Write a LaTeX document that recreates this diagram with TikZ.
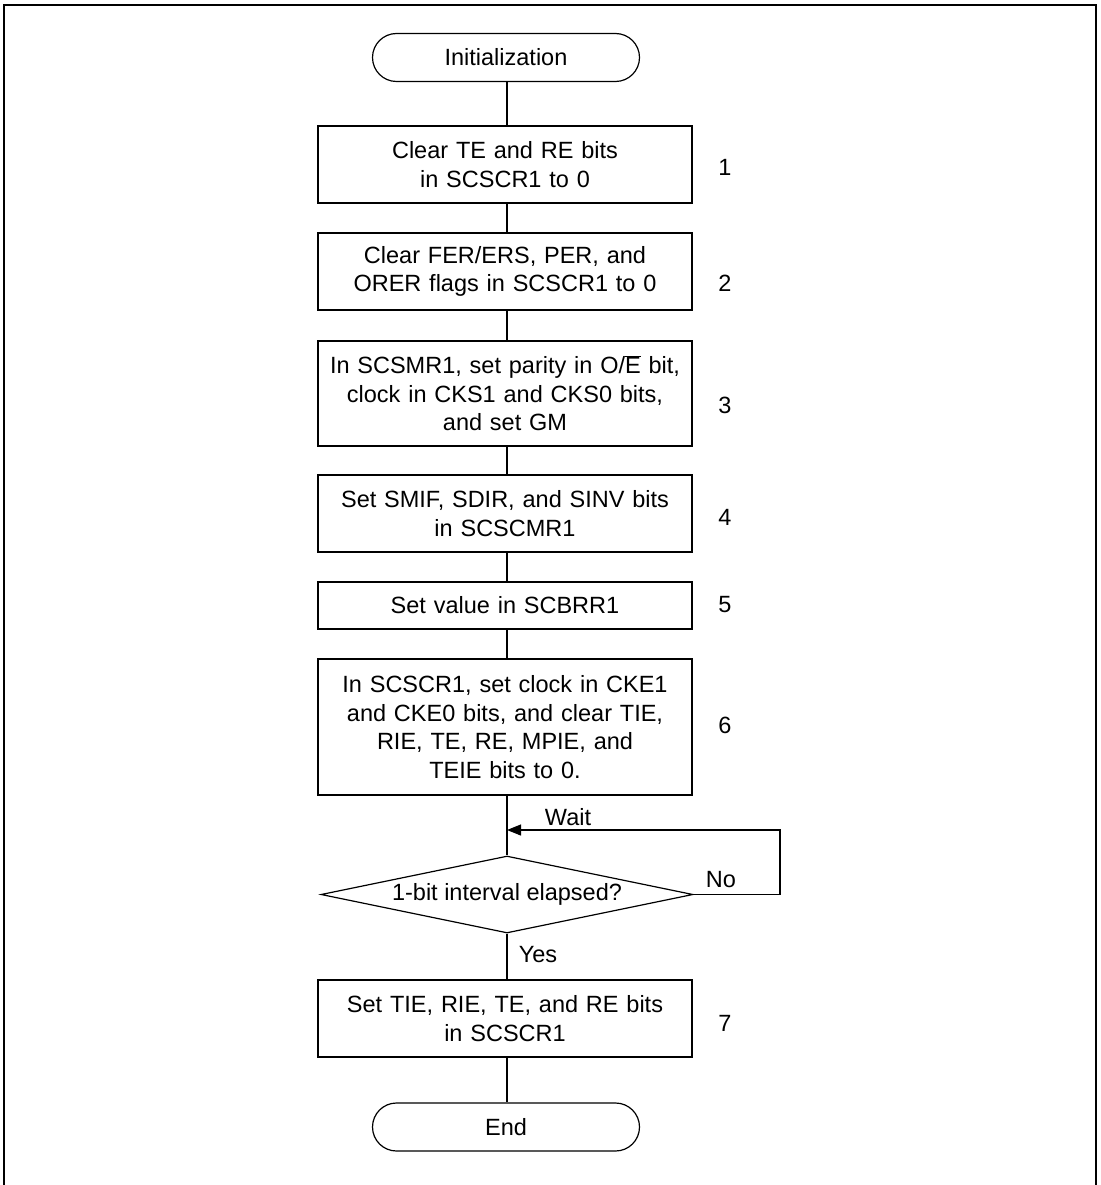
\documentclass[tikz,border=0pt]{standalone}
\usepackage{fontspec}
\setmainfont{Liberation Sans}
\usetikzlibrary{shapes.geometric,arrows.meta}
\begin{document}
\begin{tikzpicture}[x=1pt,y=-1pt,
  every node/.style={font=\fontsize{23.5}{28.5}\selectfont},
  line/.style={line width=1.2pt},
  stepbox/.style={draw,line width=1.2pt,minimum width=374pt,inner sep=0pt,align=center,text width=370pt},
  pill/.style={draw,line width=1.2pt,rounded corners=24pt,minimum width=267pt,minimum height=48pt,inner sep=0pt},
  decision/.style={draw,line width=1.2pt,shape=diamond,aspect=4.83,inner sep=0pt,minimum width=372pt,minimum height=77pt},
  num/.style={anchor=center},
  lbl/.style={anchor=center}
]
\useasboundingbox (0,0) rectangle (1100,1185);
% frame
\draw[line width=2.2pt] (3.7,1185) -- (3.7,5) -- (1095.7,5) -- (1095.7,1185);

\node[pill] (init) at (506,57.5) {Initialization};
\node[stepbox,minimum height=77pt] (s1) at (505,164.5) {Clear TE and RE bits\\in SCSCR1 to 0};
\node[stepbox,minimum height=77pt] (s2) at (505,271.5) {Clear FER/ERS, PER, and\\ORER flags in SCSCR1 to 0};
\node[stepbox,minimum height=105pt] (s3) at (505,393.5) {In SCSMR1, set parity in O/$\overline{\mbox{E}}$ bit,\\clock in CKS1 and CKS0 bits,\\and set GM};
\node[stepbox,minimum height=77pt] (s4) at (505,513.5) {Set SMIF, SDIR, and SINV bits\\in SCSCMR1};
\node[stepbox,minimum height=47pt] (s5) at (505,605.5) {Set value in SCBRR1};
\node[stepbox,minimum height=136pt] (s6) at (505,727) {In SCSCR1, set clock in CKE1\\and CKE0 bits, and clear TIE,\\RIE, TE, RE, MPIE, and\\TEIE bits to 0.};
\node[decision] (d) at (507,894.5) {1-bit interval elapsed?};
\node[stepbox,minimum height=77pt] (s7) at (505,1018.5) {Set TIE, RIE, TE, and RE bits\\in SCSCR1};
\node[pill] (end) at (506,1127) {End};

\node[num] (n1) at (725,167) {1};
\node[num] (n2) at (725,283) {2};
\node[num] (n3) at (725,405) {3};
\node[num] (n4) at (725,517) {4};
\node[num] (n5) at (725,605) {5};
\node[num] (n6) at (725,725) {6};
\node[num] (n7) at (725,1023) {7};

\coordinate (cx) at (507,0);
\draw[line] (init.south -| cx) -- (s1.north -| cx);
\draw[line] (s1.south -| cx) -- (s2.north -| cx);
\draw[line] (s2.south -| cx) -- (s3.north -| cx);
\draw[line] (s3.south -| cx) -- (s4.north -| cx);
\draw[line] (s4.south -| cx) -- (s5.north -| cx);
\draw[line] (s5.south -| cx) -- (s6.north -| cx);
\draw[line] (s6.south -| cx) -- (d.north);
\draw[line] (d.south) -- (s7.north -| cx);
\draw[line] (s7.south -| cx) -- (end.north -| cx);

\coordinate (w) at (507,830);
\coordinate (r) at (780,830);
\draw[line,-{Triangle[length=14pt,width=11pt]}] (d.east) -- (d.east -| r) -- (r) -- (w);

\node[lbl] (wait) at (568,817) {Wait};
\node[lbl] (no) at (721,880) {No};
\node[lbl] (yes) at (538,955) {Yes};
\end{tikzpicture}
\end{document}
